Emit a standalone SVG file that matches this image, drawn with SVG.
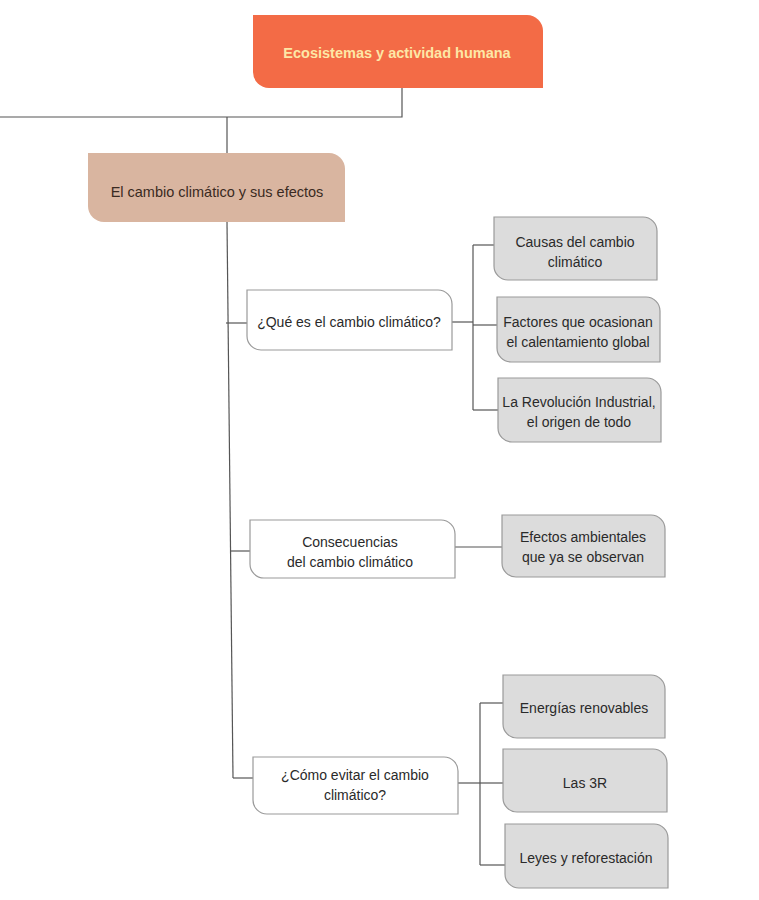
<svg xmlns="http://www.w3.org/2000/svg" width="759" height="900" viewBox="0 0 759 900">
<style>
.t{font-family:"Liberation Sans",Arial,sans-serif;font-size:14px;fill:#2a2a2a;text-anchor:middle}
.w{fill:#ffffff;stroke:#9a9a9a;stroke-width:1.2}
.g{fill:#dcdcdc;stroke:#9a9a9a;stroke-width:1.2}
.c{fill:none;stroke:#555555;stroke-width:1.2}
</style>
<rect width="759" height="900" fill="#ffffff"/>
<g id="connectors">
<path class="c" d="M402 88 V117 H0"/>
<path class="c" d="M227 117 V153"/>
<path class="c" d="M227 222 L233 778"/>
<path class="c" d="M226 323 H247"/>
<path class="c" d="M230 551 H250"/>
<path class="c" d="M233 778 H253"/>
<path class="c" d="M452 322 H473"/>
<path class="c" d="M473 245 V410"/>
<path class="c" d="M473 245 H494"/>
<path class="c" d="M473 325 H497"/>
<path class="c" d="M473 410 H498"/>
<path class="c" d="M455 547 H502"/>
<path class="c" d="M458 783 H480"/>
<path class="c" d="M480 703 V865"/>
<path class="c" d="M480 703 H503"/>
<path class="c" d="M480 783 H503"/>
<path class="c" d="M480 865 H505"/>
</g>
<g id="root">
<path d="M253 15 H527 A16 16 0 0 1 543 31 V88 H269 A16 16 0 0 1 253 72 Z" fill="#f36b46"/>
<text x="397" y="58" style="font-family:'Liberation Sans',Arial,sans-serif;font-size:14.5px;font-weight:600;fill:#fde7a6;text-anchor:middle">Ecosistemas y actividad humana</text>
</g>
<g id="main">
<path d="M88 153 H329 A16 16 0 0 1 345 169 V222 H104 A16 16 0 0 1 88 206 Z" fill="#d9b5a0"/>
<text class="t" x="217" y="197" style="fill:#3a2a22;font-size:14.5px">El cambio climático y sus efectos</text>
</g>
<g id="que">
<path class="w" d="M247 290 H438 A14 14 0 0 1 452 304 V350 H261 A14 14 0 0 1 247 336 Z"/>
<text class="t" x="349" y="327">¿Qué es el cambio climático?</text>
</g>
<g id="causas">
<path class="g" d="M494 217 H643 A14 14 0 0 1 657 231 V280 H508 A14 14 0 0 1 494 266 Z"/>
<text class="t" x="575" y="247">Causas del cambio</text>
<text class="t" x="575" y="267">climático</text>
</g>
<g id="factores">
<path class="g" d="M497 297 H646 A14 14 0 0 1 660 311 V362 H511 A14 14 0 0 1 497 348 Z"/>
<text class="t" x="578" y="327">Factores que ocasionan</text>
<text class="t" x="578" y="347">el calentamiento global</text>
</g>
<g id="revolucion">
<path class="g" d="M498 378 H647 A14 14 0 0 1 661 392 V442 H512 A14 14 0 0 1 498 428 Z"/>
<text class="t" x="579" y="407">La Revolución Industrial,</text>
<text class="t" x="579" y="427">el origen de todo</text>
</g>
<g id="consecuencias">
<path class="w" d="M250 520 H441 A14 14 0 0 1 455 534 V578 H264 A14 14 0 0 1 250 564 Z"/>
<text class="t" x="350" y="547">Consecuencias</text>
<text class="t" x="350" y="567">del cambio climático</text>
</g>
<g id="efectos">
<path class="g" d="M502 515 H651 A14 14 0 0 1 665 529 V577 H516 A14 14 0 0 1 502 563 Z"/>
<text class="t" x="583" y="542">Efectos ambientales</text>
<text class="t" x="583" y="562">que ya se observan</text>
</g>
<g id="como">
<path class="w" d="M253 757 H444 A14 14 0 0 1 458 771 V814 H267 A14 14 0 0 1 253 800 Z"/>
<text class="t" x="355" y="780">¿Cómo evitar el cambio</text>
<text class="t" x="355" y="800">climático?</text>
</g>
<g id="energias">
<path class="g" d="M503 675 H651 A14 14 0 0 1 665 689 V738 H517 A14 14 0 0 1 503 724 Z"/>
<text class="t" x="584" y="713">Energías renovables</text>
</g>
<g id="tresr">
<path class="g" d="M503 749 H653 A14 14 0 0 1 667 763 V812 H517 A14 14 0 0 1 503 798 Z"/>
<text class="t" x="585" y="788">Las 3R</text>
</g>
<g id="leyes">
<path class="g" d="M505 824 H654 A14 14 0 0 1 668 838 V888 H519 A14 14 0 0 1 505 874 Z"/>
<text class="t" x="586" y="863">Leyes y reforestación</text>
</g>
</svg>
